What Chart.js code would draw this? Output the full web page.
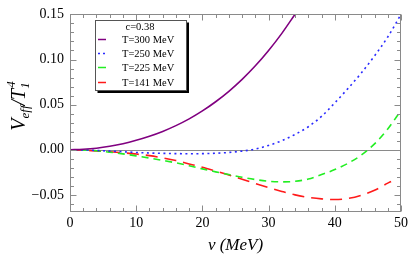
<!DOCTYPE html>
<html><head><meta charset="utf-8">
<script src="https://cdn.jsdelivr.net/npm/chart.js@4.4.0/dist/chart.umd.min.js"></script>
<style>html,body{margin:0;padding:0;background:#fff;}canvas{display:block;}</style>
</head><body>
<canvas id="c" width="415" height="258"></canvas>
<script>
// ---- data ----
const legendTitle = 'c=0.38';
const seriesLabels = ['T=300 MeV', 'T=250 MeV', 'T=225 MeV', 'T=141 MeV'];

const vT300 = [0,2,4,6,8,10,12,14,16,18,20,22,24,26,28,30,32,34];
const yT300 = [0,0.0005,0.0017,0.0038,0.0067,0.0105,0.0150,0.0203,0.0267,0.0342,0.0430,0.0532,0.0648,0.0780,0.0930,0.1100,0.1290,0.1502];

const vT250 = [0,2,4,6,8,10,12,14,16,18,20,22,24,26,28,30,32,34,36,38,40,42,44,46,48,50];
const yT250 = [0,-0.0002,-0.0008,-0.0015,-0.0022,-0.0030,-0.0036,-0.0040,-0.0043,-0.0044,-0.0043,-0.0039,-0.0030,-0.0015,0.0008,0.0048,0.0100,0.0170,0.0255,0.0370,0.0520,0.0680,0.0850,0.1040,0.1250,0.1500];

const vT225 = [0,2,4,6,8,10,12,14,16,18,20,22,24,26,28,30,32,34,36,38,40,42,44,46,48,50];
const yT225 = [0,-0.0003,-0.0012,-0.0027,-0.0046,-0.0068,-0.0092,-0.0118,-0.0145,-0.0177,-0.0212,-0.0245,-0.0275,-0.0305,-0.0330,-0.0349,-0.0356,-0.0350,-0.0325,-0.0275,-0.0220,-0.0150,-0.0060,0.0065,0.0230,0.0435];

const vT141 = [0,2,4,6,8,10,12,14,16,18,20,22,24,26,28,30,32,34,36,38,40,42,44,46,48,48.5];
const yT141 = [0,-0.0004,-0.0014,-0.0023,-0.0033,-0.0048,-0.0065,-0.0090,-0.0120,-0.0157,-0.0195,-0.0237,-0.0280,-0.0327,-0.0375,-0.0420,-0.0462,-0.0500,-0.0528,-0.0545,-0.0552,-0.0540,-0.0505,-0.0450,-0.0370,-0.0352];

const xTickValues = [0,10,20,30,40,50];
const yTickValues = [-0.05,0,0.05,0.10,0.15];
const xMinorStep = 2;
const yMinorStep = 0.01;

// ---- styles ----
const colors = ['#800080', '#2a2aff', '#22ee22', '#ff1a1a'];
const dashes = [[], [2,3.5], [7,5], [12,7]];
const serif = '"Liberation Serif", "Times New Roman", serif';

function pts(xs, ys){ return xs.map((x,i)=>({x:x, y:ys[i]})); }

const frameColor = '#8a8a8a';

const framePlugin = {
  id: 'frame',
  beforeDatasetsDraw(chart){
    const {ctx, chartArea:a, scales:{y}} = chart;
    ctx.save();
    ctx.strokeStyle = frameColor; ctx.lineWidth = 1;
    const y0 = Math.round(y.getPixelForValue(0)) + 0.5;
    ctx.beginPath(); ctx.moveTo(a.left, y0); ctx.lineTo(a.right, y0); ctx.stroke();
    ctx.restore();
  },
  afterDatasetsDraw(chart){
    const {ctx, chartArea:a, scales:{x,y}} = chart;
    ctx.save();
    ctx.strokeStyle = frameColor; ctx.lineWidth = 1;
    const L = Math.round(a.left)+0.5, R = Math.round(a.right)-0.5, T = Math.round(a.top)+0.5, B = Math.round(a.bottom)-0.5;
    ctx.strokeRect(L, T, R-L, B-T);
    ctx.beginPath();
    for (let v = x.min; v <= x.max + 1e-9; v += xMinorStep){
      const major = xTickValues.some(t => Math.abs(t - v) < 1e-6);
      const len = major ? 6 : 3.5;
      const px = Math.round(x.getPixelForValue(v)) + 0.5;
      ctx.moveTo(px, B); ctx.lineTo(px, B - len);
      ctx.moveTo(px, T); ctx.lineTo(px, T + len);
    }
    const start = Math.ceil(y.min / yMinorStep - 1e-6);
    const end = Math.floor(y.max / yMinorStep + 1e-6);
    for (let k = start; k <= end; k++){
      const v = k * yMinorStep;
      const major = yTickValues.some(t => Math.abs(t - v) < 1e-6);
      const len = major ? 6 : 3.5;
      const py = Math.round(y.getPixelForValue(v)) + 0.5;
      ctx.moveTo(L, py); ctx.lineTo(L + len, py);
      ctx.moveTo(R, py); ctx.lineTo(R - len, py);
    }
    ctx.stroke();
    ctx.restore();
  },
  afterDraw(chart){
    const {ctx, chartArea:a} = chart;
    ctx.save();
    // legend box
    const bx = 95.5, by = 20.5, bw = 91, bh = 70;
    ctx.fillStyle = '#000';
    ctx.fillRect(bx + 2, by + 2, bw + 0.5, bh + 0.5);
    ctx.fillStyle = '#fff';
    ctx.fillRect(bx, by, bw, bh);
    ctx.strokeStyle = '#555'; ctx.lineWidth = 1;
    ctx.strokeRect(bx, by, bw, bh);
    ctx.fillStyle = '#000';
    ctx.font = '10.5px ' + serif;
    ctx.textBaseline = 'middle';
    ctx.textAlign = 'center';
    ctx.fillText(legendTitle, 140, 27);
    ctx.textAlign = 'left';
    const rowY = [39.5, 53.5, 67.5, 82.5];
    seriesLabels.forEach((lab, i) => {
      ctx.strokeStyle = colors[i];
      ctx.lineWidth = 1.5;
      ctx.setLineDash(i === 1 ? [2,3] : []);
      ctx.beginPath(); ctx.moveTo(98, rowY[i]); ctx.lineTo(106, rowY[i]); ctx.stroke();
      ctx.setLineDash([]);
      ctx.fillStyle = '#000';
      ctx.fillText(lab, 122, rowY[i] + 0.5);
    });

    // x-axis title
    ctx.font = 'italic 17px ' + serif;
    ctx.textAlign = 'center';
    ctx.textBaseline = 'alphabetic';
    ctx.fillText('v (MeV)', (a.left + a.right) / 2, 250);

    // y-axis title (rotated, with sub/superscripts)
    ctx.translate(25, 106);
    ctx.rotate(-Math.PI / 2);
    const big = 'italic 20px ' + serif, small = 'italic 13px ' + serif;
    const parts = [
      {t:'V', f:big, dy:0},
      {t:'eff', f:small, dy:4},
      {t:'/T', f:big, dy:0},
      {t:'1', f:small, dy:4, stackNext:true},
      {t:'4', f:small, dy:-10}
    ];
    const widths = [];
    parts.forEach(p => { ctx.font = p.f; widths.push(ctx.measureText(p.t).width); });
    const total = widths[0] + widths[1] + widths[2] + Math.max(widths[3], widths[4]) + 1;
    let cx = -total / 2;
    ctx.textAlign = 'left';
    ctx.fillStyle = '#000';
    parts.forEach((p, i) => {
      ctx.font = p.f;
      ctx.fillText(p.t, cx + (i === 4 ? 1 : 0), p.dy);
      if (!p.stackNext) cx += widths[i];
    });
    ctx.restore();
  }
};

const datasets = [
  {data: pts(vT300, yT300)},
  {data: pts(vT250, yT250)},
  {data: pts(vT225, yT225)},
  {data: pts(vT141, yT141)}
].map((d, i) => Object.assign(d, {
  label: seriesLabels[i],
  borderColor: colors[i],
  borderDash: dashes[i],
  borderWidth: 1.6,
  pointRadius: 0,
  fill: false,
  cubicInterpolationMode: 'monotone'
}));

const tickFont = {family: serif, size: 14};

new Chart(document.getElementById('c'), {
  type: 'line',
  data: {datasets: datasets},
  options: {
    responsive: false,
    animation: false,
    devicePixelRatio: 1,
    layout: {padding: {left: 0, top: 8, right: 14, bottom: 0}},
    plugins: {legend: {display: false}, tooltip: {enabled: false}},
    scales: {
      x: {
        type: 'linear', min: 0, max: 50,
        afterBuildTicks: s => { s.ticks = xTickValues.map(v => ({value: v})); },
        ticks: {font: tickFont, color: '#000', padding: 3, maxRotation: 0, callback: v => String(v)},
        grid: {display: false, drawTicks: false},
        border: {display: false},
        afterFit: s => { s.height = 46; }
      },
      y: {
        type: 'linear', min: -0.069, max: 0.15,
        afterBuildTicks: s => { s.ticks = yTickValues.map(v => ({value: v})); },
        ticks: {font: tickFont, color: '#000', padding: 6,
          callback: v => (v < -1e-9 ? '\u2212' + Math.abs(v).toFixed(2) : Math.abs(v).toFixed(2))},
        grid: {display: false, drawTicks: false},
        border: {display: false},
        afterFit: s => { s.width = 70; }
      }
    }
  },
  plugins: [framePlugin]
});
</script>
</body></html>
